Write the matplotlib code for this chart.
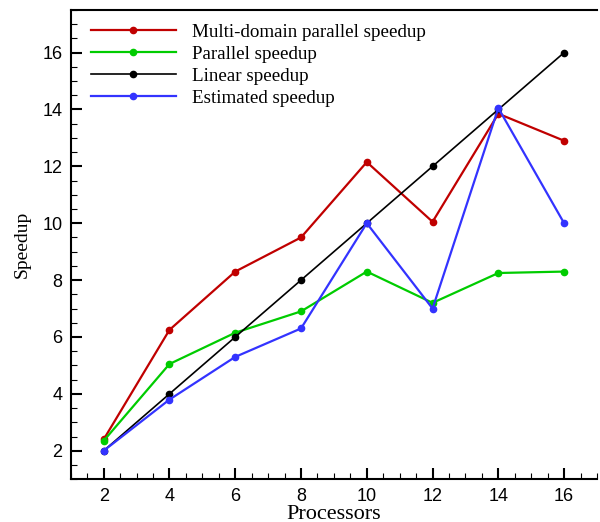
import matplotlib
matplotlib.use("Agg")
import matplotlib.pyplot as plt
from matplotlib.ticker import MultipleLocator

# processors and speedup series
processors = [2, 4, 6, 8, 10, 12, 14, 16]
multi_domain = [2.4, 6.25, 8.3, 9.5, 12.15, 10.05, 13.85, 12.9]
parallel = [2.35, 5.05, 6.15, 6.9, 8.3, 7.2, 8.25, 8.3]
linear = [2, 4, 6, 8, 10, 12, 14, 16]
estimated = [2.0, 3.8, 5.3, 6.3, 10.0, 7.0, 14.05, 10.0]

fig = plt.figure(figsize=(6, 5.22), dpi=100)
ax = fig.add_axes([0.118, 0.082, 0.877, 0.899])

serif = "Liberation Serif"
sans = "Liberation Sans"

ax.plot(processors, multi_domain, "-o", color="#c00000", lw=1.6, ms=4.5,
        label="Multi-domain parallel speedup")
ax.plot(processors, parallel, "-o", color="#00cc00", lw=1.6, ms=4.5,
        label="Parallel speedup")
ax.plot(processors, linear, "-o", color="black", lw=1.2, ms=4.5,
        label="Linear speedup")
ax.plot(processors, estimated, "-o", color="#3333ff", lw=1.6, ms=4.5,
        label="Estimated speedup")

ax.set_xlim(1, 17)
ax.set_ylim(1, 17.5)
ax.xaxis.set_major_locator(MultipleLocator(2))
ax.xaxis.set_minor_locator(MultipleLocator(0.5))
ax.yaxis.set_major_locator(MultipleLocator(2))
ax.yaxis.set_minor_locator(MultipleLocator(0.5))
ax.tick_params(which="major", direction="in", length=8, width=1.5,
               top=False, right=False, labelsize=13, pad=6)
ax.tick_params(which="minor", direction="in", length=4.5, width=0.8,
               top=False, right=False)
for lab in ax.get_xticklabels() + ax.get_yticklabels():
    lab.set_fontfamily(sans)

for side in ["left", "bottom", "top"]:
    ax.spines[side].set_linewidth(1.5)
ax.spines["right"].set_visible(False)

ax.set_xlabel("Processors", fontsize=16, family=serif, labelpad=0)
ax.set_ylabel("Speedup", fontsize=14, family=serif, labelpad=8)

ax.legend(loc="upper left", frameon=False, prop={"family": serif, "size": 13.7},
          handlelength=4.5, handletextpad=0.85, labelspacing=0.24,
          borderaxespad=0.5, bbox_to_anchor=(0.005, 1.007))

fig.savefig("out.png", dpi=100)
